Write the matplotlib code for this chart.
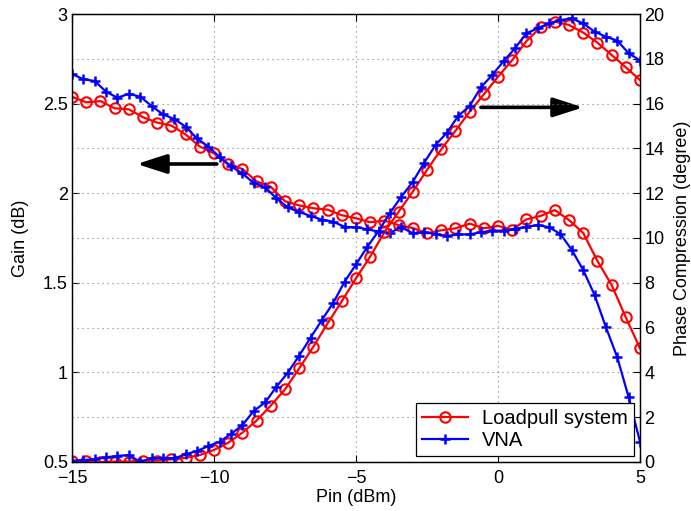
import numpy as np
import matplotlib
matplotlib.use('Agg')
import matplotlib.pyplot as plt

plt.rcParams['font.family'] = ['Liberation Sans', 'DejaVu Sans']
plt.rcParams['font.size'] = 13

# Pin sweep: loadpull system in 0.5 dB steps, VNA in 0.4 dB steps
pin_lp = np.linspace(-15, 5, 41)
pin_vna = np.linspace(-15, 5, 51)

gain_lp = [2.538, 2.507, 2.514, 2.474, 2.468, 2.424, 2.394, 2.377, 2.328, 2.26,
           2.222, 2.161, 2.135, 2.066, 2.036, 1.955, 1.932, 1.916, 1.908, 1.877,
           1.86, 1.838, 1.847, 1.822, 1.806, 1.776, 1.793, 1.804, 1.83, 1.804,
           1.818, 1.795, 1.854, 1.873, 1.906, 1.85, 1.778, 1.622, 1.488, 1.307,
           1.134]
phase_lp = [0.05, 0.05, 0.0, 0.02, 0.02, 0.06, 0.06, 0.12, 0.19, 0.31,
            0.54, 0.86, 1.31, 1.85, 2.52, 3.24, 4.18, 5.15, 6.19, 7.18,
            8.2, 9.17, 10.26, 11.17, 12.07, 13.04, 13.96, 14.78, 15.64, 16.41,
            17.2, 17.94, 18.79, 19.41, 19.66, 19.51, 19.17, 18.72, 18.17, 17.62,
            17.05]

gain_vna = [2.665, 2.636, 2.626, 2.566, 2.533, 2.554, 2.539, 2.487, 2.44, 2.414,
            2.371, 2.306, 2.26, 2.202, 2.15, 2.11, 2.057, 2.033, 1.971, 1.921,
            1.895, 1.873, 1.852, 1.841, 1.812, 1.81, 1.799, 1.785, 1.78, 1.81,
            1.776, 1.782, 1.772, 1.761, 1.77, 1.77, 1.782, 1.791, 1.791, 1.8,
            1.813, 1.822, 1.81, 1.772, 1.683, 1.571, 1.432, 1.252, 1.084, 0.861,
            0.613]
phase_vna = [0.05, 0.09, 0.12, 0.21, 0.27, 0.31, 0.01, 0.16, 0.19, 0.16,
             0.34, 0.49, 0.71, 0.91, 1.25, 1.65, 2.28, 2.66, 3.36, 3.99,
             4.75, 5.55, 6.34, 7.11, 8.05, 8.82, 9.61, 10.32, 11.13, 11.85,
             12.51, 13.36, 14.15, 14.7, 15.45, 15.89, 16.73, 17.28, 17.9, 18.47,
             19.14, 19.36, 19.58, 19.73, 19.8, 19.58, 19.21, 18.99, 18.81, 18.25,
             17.92]

# arrow annotations (gain axis coords): (tail_x, tip_x, y)
arrow_gain = (-9.9, -12.72, 2.163)
arrow_phase = (-0.6, 3.0, 2.479)

fig = plt.figure(figsize=(6.91, 5.11), dpi=100)
ax1 = fig.add_axes([0.1042, 0.0959, 0.8220, 0.8767])
ax2 = ax1.twinx()

red_kw = dict(color='#ff0000', marker='o', ms=7.5, mfc='none', mew=1.5, lw=1.6)
blue_kw = dict(color='#0000ff', marker='+', ms=7, mew=1.8, lw=1.6)

l1, = ax1.plot(pin_lp, gain_lp, **red_kw)
l2, = ax1.plot(pin_vna, gain_vna, **blue_kw)
ax2.plot(pin_lp, phase_lp, **red_kw)
ax2.plot(pin_vna, phase_vna, **blue_kw)

ax1.set_xlim(-15, 5)
ax1.set_ylim(0.5, 3)
ax2.set_ylim(0, 20)
ax1.set_xticks([-15, -10, -5, 0, 5])
ax1.set_yticks([0.5, 1, 1.5, 2, 2.5, 3])
ax1.set_yticklabels(['0.5', '1', '1.5', '2', '2.5', '3'])
ax2.set_yticks(np.arange(0, 21, 2))

ax1.tick_params(axis='x', direction='in', top=True, length=5, pad=6)
ax1.tick_params(axis='y', direction='in', right=False, length=5, pad=3)
ax2.tick_params(axis='y', direction='in', length=5, pad=3)

for ax in (ax1, ax2):
    for s in ax.spines.values():
        s.set_linewidth(0.9)

ax1.xaxis.grid(True, ls=(0, (1, 3.5)), color='#808080', lw=0.8)
ax2.yaxis.grid(True, ls=(0, (1, 3.5)), color='#808080', lw=0.8)
ax1.set_axisbelow(True)
ax2.set_axisbelow(True)

ax1.set_xlabel('Pin (dBm)', labelpad=1)
ax1.set_ylabel('Gain (dB)', labelpad=10)
ax2.set_ylabel('Phase Compression (degree)', labelpad=7)

arrow_props = dict(arrowstyle='-|>,head_length=1.4,head_width=0.45', color='black',
                   lw=2.6, shrinkA=0, shrinkB=0)
ax1.annotate('', xy=(arrow_gain[1], arrow_gain[2]), xytext=(arrow_gain[0], arrow_gain[2]),
             arrowprops=arrow_props, zorder=5)
ax1.annotate('', xy=(arrow_phase[1], arrow_phase[2]), xytext=(arrow_phase[0], arrow_phase[2]),
             arrowprops=arrow_props, zorder=5)

leg = ax2.legend([l1, l2], ['Loadpull system', 'VNA'], loc='lower right',
                 fancybox=False, framealpha=1, edgecolor='black', fontsize=14.5,
                 borderaxespad=0.3, handlelength=2.3, borderpad=0.3,
                 labelspacing=0.15, handletextpad=0.7)
leg.get_frame().set_linewidth(0.9)

fig.savefig('out.png', dpi=100)
